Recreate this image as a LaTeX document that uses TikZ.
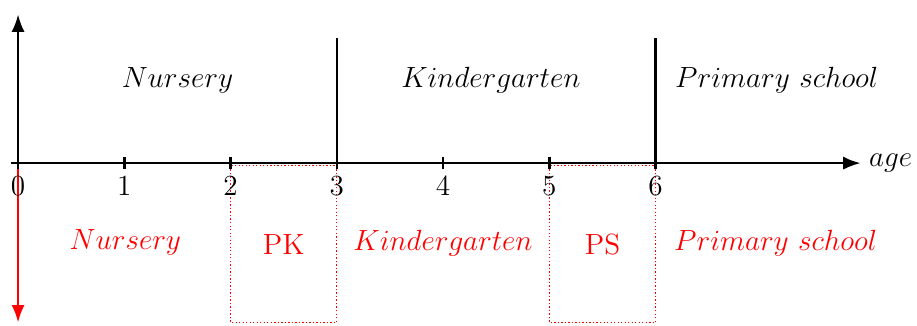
\RequirePackage{fix-cm}
\documentclass[tikz,border=0pt]{standalone}
\usetikzlibrary{arrows.meta}

\begin{document}
\begin{tikzpicture}[x=1.7cm, y=1.7cm, line width=1.1pt,
    every node/.style={font=\fontsize{13.3}{16}\selectfont}]
  \useasboundingbox (-0.17,-1.525) rectangle (8.46,1.535);
  % red arrow and dotted boxes below the axis
  \draw[red, -{Latex}] (0,-0.05) -- (0,-1.5);
  \draw[red, densely dotted, line width=0.6pt] (2,-0.025) rectangle (3,-1.5);
  \draw[red, densely dotted, line width=0.6pt] (5,-0.025) rectangle (6,-1.5);
  % axes
  \draw[-{Latex}] (-0.07,0) -- (7.93,0) node[right] (age) {$age$};
  \draw[-{Latex}] (0,0) -- (0,1.4);
  % borders between stages
  \draw (3,0) -- (3,1.18);
  \draw (6,0) -- (6,1.18);
  % ticks
  \foreach \i in {0,...,6} {
    \draw (\i,0.06) -- (\i,-0.06);
    \node (t\i) at (\i,-0.22) {$\i$};
  }
  % stages above the axis
  \node (nurs) at (1.5,0.78) {$Nursery$};
  \node (kind) at (4.45,0.78) {$Kindergarten$};
  \node (prim) at (7.14,0.78) {$Primary\ school$};
  % stages below the axis
  \node[red] (nursR) at (1.01,-0.75) {$Nursery$};
  \node[red] (pk) at (2.5,-0.77) {PK};
  \node[red] (kindR) at (4.0,-0.75) {$Kindergarten$};
  \node[red] (ps) at (5.5,-0.77) {PS};
  \node[red] (primR) at (7.13,-0.75) {$Primary\ school$};
\end{tikzpicture}
\end{document}
